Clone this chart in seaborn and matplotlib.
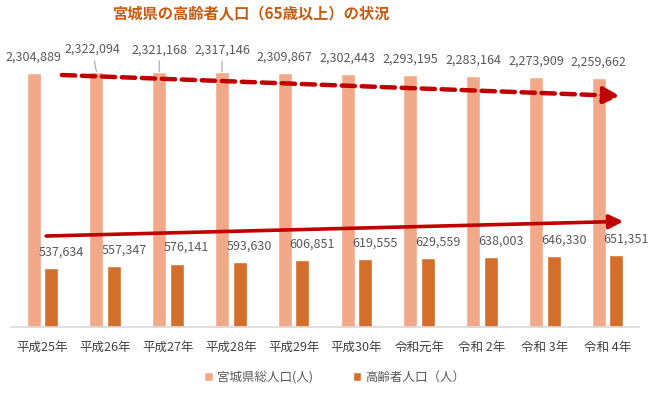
import pandas as pd
import numpy as np
import seaborn as sns
import matplotlib.pyplot as plt
from matplotlib.ticker import FixedLocator

sns.set_theme(style="white")
plt.rcParams['font.family'] = ['Noto Sans CJK JP', 'DejaVu Sans']

years = ["平成25年", "平成26年", "平成27年", "平成28年", "平成29年",
         "平成30年", "令和元年", "令和 2年", "令和 3年", "令和 4年"]
total_pop = [2304889, 2322094, 2321168, 2317146, 2309867,
             2302443, 2293195, 2283164, 2273909, 2259662]
elderly_pop = [537634, 557347, 576141, 593630, 606851,
               619555, 629559, 638003, 646330, 651351]
series_names = ["宮城県総人口(人)", "高齢者人口（人）"]

df = pd.DataFrame({
    "year": years * 2,
    "value": total_pop + elderly_pop,
    "series": [series_names[0]] * len(years) + [series_names[1]] * len(years),
})

fig = plt.figure(figsize=(6.56, 3.93), dpi=100)
ax = fig.add_axes([11 / 656, 1 - 327 / 393, 628 / 656, 287 / 393])

sns.barplot(data=df, x="year", y="value", hue="series", ax=ax,
            palette=["#F2A98A", "#D36E2B"], width=0.56, gap=0.2,
            saturation=1, errorbar=None)

ax.set_xlim(-0.5, len(years) - 0.5)
ax.set_ylim(0, 287 * 9090)
ax.set_xlabel("")
ax.set_ylabel("")
ax.set_yticks([])
for s in ["top", "right", "left"]:
    ax.spines[s].set_visible(False)
ax.spines["bottom"].set_color("#D9D9D9")
ax.tick_params(axis="x", which="major", length=0, pad=10, labelsize=9,
               labelcolor="#404040")
ax.xaxis.set_minor_locator(FixedLocator(np.arange(-0.5, len(years), 1)))
ax.tick_params(axis="x", which="minor", length=4, color="#D9D9D9", width=1)

# value labels (a few are lifted with a leader line)
raised = {1: -4, 2: 0, 3: 0}
for i, bar in enumerate(ax.containers[0]):
    x = bar.get_x() + bar.get_width() / 2
    h = bar.get_height()
    if i in raised:
        ax.annotate(f"{total_pop[i]:,}", xy=(x, h), xytext=(raised[i], 22),
                    textcoords="offset pixels", ha="center", va="center",
                    fontsize=9, color="#595959",
                    arrowprops=dict(arrowstyle="-", color="#A6A6A6", lw=0.8,
                                    shrinkA=1, shrinkB=0))
    else:
        ax.annotate(f"{total_pop[i]:,}", xy=(x, h), xytext=(0, 16),
                    textcoords="offset pixels", ha="center", va="center",
                    fontsize=9, color="#595959")
for i, bar in enumerate(ax.containers[1]):
    x = bar.get_x() + bar.get_width() / 2
    h = bar.get_height()
    ax.annotate(f"{elderly_pop[i]:,}", xy=(x, h), xytext=(10, 16),
                textcoords="offset pixels", ha="center", va="center",
                fontsize=9, color="#595959")

# trend arrows
ax.annotate("", xy=(0.970, 0.805), xytext=(0.081, 0.878),
            xycoords="axes fraction", textcoords="axes fraction",
            arrowprops=dict(arrowstyle="-|>,head_length=0.8,head_width=0.4",
                            color="#C00000", lw=3.2, linestyle=(0, (3, 1.5)),
                            shrinkA=0, shrinkB=0))
ax.annotate("", xy=(0.975, 0.368), xytext=(0.056, 0.317),
            xycoords="axes fraction", textcoords="axes fraction",
            arrowprops=dict(arrowstyle="-|>,head_length=0.7,head_width=0.35",
                            color="#C00000", lw=2.6,
                            shrinkA=0, shrinkB=0))

handles, labels = ax.get_legend_handles_labels()
ax.legend(handles, labels, loc="center", bbox_to_anchor=(0.51, 1 - 377 / 393),
          bbox_transform=fig.transFigure, ncol=2, frameon=False, fontsize=9,
          labelcolor="#595959", handlelength=0.7, handleheight=0.7,
          handletextpad=0.3, columnspacing=3.2)

fig.text(252 / 656, 1 - 14 / 393, "宮城県の高齢者人口（65歳以上）の状況",
         ha="center", va="center", fontsize=11, fontweight="bold",
         color="#C55A11")

fig.savefig("out.png", dpi=100)
